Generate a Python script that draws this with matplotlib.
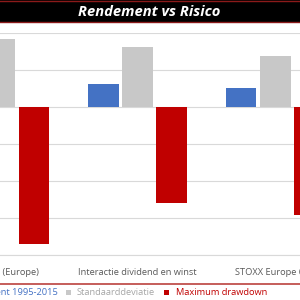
import matplotlib
matplotlib.use("Agg")
import matplotlib.pyplot as plt
from matplotlib.patches import Rectangle
from matplotlib.lines import Line2D
import numpy as np

categories = ["Dividend (Europe)", "Interactie dividend en winst", "STOXX Europe 600"]
series_names = ["Rendement 1995-2015", "Standaarddeviatie", "Maximum drawdown"]
rendement = [7.0, 6.2, 5.2]
standaarddeviatie = [18.3, 16.3, 13.9]
max_drawdown = [-37.0, -26.1, -29.3]
series_values = [rendement, standaarddeviatie, max_drawdown]
colors = ["#4472C4", "#C8C8C8", "#C00000"]
text_colors = ["#4472C4", "#A6A6A6", "#C00000"]

plt.rcParams['font.family'] = ['Open Sans', 'DejaVu Sans']

W = H = 300
fig = plt.figure(figsize=(3, 3), dpi=100)
fig.patch.set_facecolor("white")

def fx(px):
    return px / W

def fy(py):
    return 1 - py / H

ax_top, ax_bot = 33.1, 254.6
ax = fig.add_axes([0, fy(ax_bot), 1, (ax_bot - ax_top) / H])
x = np.arange(len(categories))
step = 0.248
width = 0.222
for i, (vals, c) in enumerate(zip(series_values, colors)):
    ax.bar(x + (i - 1) * step, vals, width=width, color=c, zorder=3)

x0 = 1 - 136.0 / 139
ax.set_xlim(x0, x0 + 300 / 139)
ax.set_ylim(-40, 20)
ax.set_yticks(np.arange(-40, 21, 10))
ax.set_yticklabels([])
ax.grid(axis="y", color="#D9D9D9", linewidth=0.8, zorder=0)
ax.tick_params(axis="both", length=0)
for s in ["left", "right", "top"]:
    ax.spines[s].set_visible(False)
ax.spines["bottom"].set_color("#D9D9D9")
ax.spines["bottom"].set_linewidth(0.8)
ax.set_xticks(x)
ax.set_xticklabels(categories, fontsize=6.7, color="#595959")
ax.tick_params(axis="x", pad=10)

# Title band
fig.patches.append(Rectangle((0, fy(22.5)), 1, fx(22.5), transform=fig.transFigure,
                             facecolor="black", edgecolor="none", zorder=1))
for yy in [1.0, 22.0]:
    fig.lines.append(Line2D([0, 1], [fy(yy), fy(yy)], transform=fig.transFigure,
                            color="#8B1A1A", linewidth=1.0))
fig.text(fx(149), fy(12), "Rendement vs Risico", color="white", fontsize=10.6,
         fontweight="bold", fontstyle="italic", ha="center", va="center")

# Red separator
fig.lines.append(Line2D([0, 1], [fy(284), fy(284)], transform=fig.transFigure,
                        color="#C0504D", linewidth=1.3))

# Legend
ly = 292.3
fig.text(fx(58), fy(ly), series_names[0], color=text_colors[0], fontsize=6.65,
         ha="right", va="center")
sq = 4.5
for (sx, tx), name, c, tc in zip([(66, 76.5), (164, 175.5)], series_names[1:],
                                 colors[1:], text_colors[1:]):
    fig.patches.append(Rectangle((fx(sx), fy(ly + sq / 2)), fx(sq), sq / H,
                                 transform=fig.transFigure, facecolor=c, edgecolor="none"))
    fig.text(fx(tx), fy(ly), name, color=tc, fontsize=6.65, ha="left", va="center")

fig.savefig("out.png", dpi=100)
